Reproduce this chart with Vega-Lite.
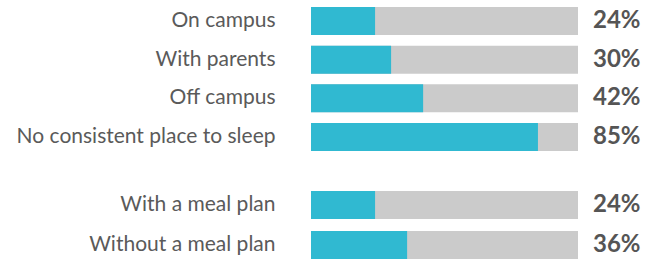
{
  "$schema": "https://vega.github.io/schema/vega-lite/v6.json",
  "padding": {"left": 0, "top": 7, "right": 0, "bottom": 0},
  "background": "white",
  "datasets": {
    "housing": [
      {"label": "On campus", "pct": 0.24},
      {"label": "With parents", "pct": 0.30},
      {"label": "Off campus", "pct": 0.42},
      {"label": "No consistent place to sleep", "pct": 0.85}
    ],
    "meal": [
      {"label": "With a meal plan", "pct": 0.24},
      {"label": "Without a meal plan", "pct": 0.36}
    ]
  },
  "config": {
    "view": {"stroke": null},
    "font": "Lato",
    "axis": {"domain": false, "ticks": false, "grid": false, "title": null, "minExtent": 311, "maxExtent": 311}
  },
  "spacing": 40,
  "vconcat": [
    {
      "data": {"name": "housing"},
      "width": 267,
      "height": 144,
      "encoding": {
        "y": {"field": "label", "type": "nominal", "sort": null,
              "scale": {"paddingInner": 0.276, "paddingOuter": 0},
              "axis": {"labelFontSize": 21, "labelColor": "#5a5a5a", "labelPadding": 36, "labelLimit": 400, "labelFont": "Lato"}}
      },
      "layer": [
        {"mark": {"type": "bar", "color": "#cbcbcb"}, "encoding": {"x": {"datum": 1, "type": "quantitative", "scale": {"domain": [0, 1]}, "axis": null}}},
        {"mark": {"type": "bar", "color": "#30b9d1"}, "encoding": {"x": {"field": "pct", "type": "quantitative", "axis": null}}},
        {"mark": {"type": "text", "align": "left", "dx": 15, "fontSize": 24, "fontWeight": "bold", "color": "#555555", "font": "Lato"},
         "encoding": {"x": {"datum": 1, "type": "quantitative"}, "text": {"field": "pct", "type": "quantitative", "format": ".0%"}}}
      ]
    },
    {
      "data": {"name": "meal"},
      "width": 267,
      "height": 68,
      "encoding": {
        "y": {"field": "label", "type": "nominal", "sort": null,
              "scale": {"paddingInner": 0.3, "paddingOuter": 0},
              "axis": {"labelFontSize": 21, "labelColor": "#5a5a5a", "labelPadding": 36, "labelLimit": 400, "labelFont": "Lato"}}
      },
      "layer": [
        {"mark": {"type": "bar", "color": "#cbcbcb"}, "encoding": {"x": {"datum": 1, "type": "quantitative", "scale": {"domain": [0, 1]}, "axis": null}}},
        {"mark": {"type": "bar", "color": "#30b9d1"}, "encoding": {"x": {"field": "pct", "type": "quantitative", "axis": null}}},
        {"mark": {"type": "text", "align": "left", "dx": 15, "fontSize": 24, "fontWeight": "bold", "color": "#555555", "font": "Lato"},
         "encoding": {"x": {"datum": 1, "type": "quantitative"}, "text": {"field": "pct", "type": "quantitative", "format": ".0%"}}}
      ]
    }
  ]
}
